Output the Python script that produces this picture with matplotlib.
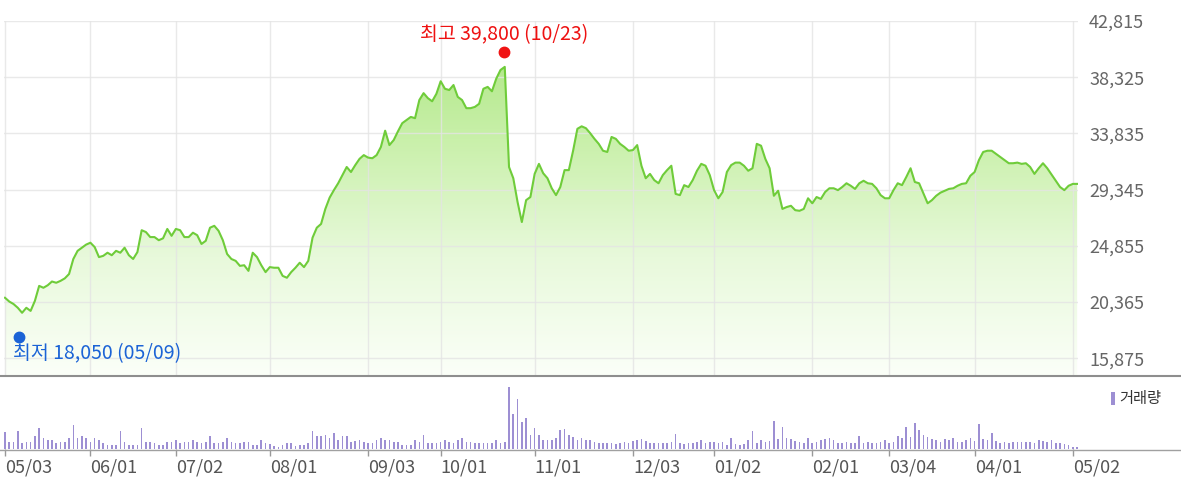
import matplotlib
matplotlib.use("Agg")
import matplotlib.pyplot as plt
import matplotlib.transforms as mtransforms
from matplotlib.colors import LinearSegmentedColormap
from matplotlib.lines import Line2D
from matplotlib.patches import Rectangle
import numpy as np

plt.rcParams["font.family"] = ["Noto Sans CJK KR", "DejaVu Sans"]

# Daily closing prices (won), one value per trading day, 05/03 .. 05/02
close_prices = [
    20700, 20400, 20200, 19900, 19500, 19900, 19650, 20450, 21650, 21500,
    21700, 22000, 21900, 22050, 22250, 22600, 23800, 24450, 24700, 24950,
    25100, 24750, 23950, 24050, 24300, 24100, 24450, 24300, 24700, 24100,
    23800, 24350, 26100, 25950, 25550, 25550, 25300, 25450, 26200, 25650,
    26200, 26100, 25550, 25550, 25900, 25700, 25000, 25250, 26300, 26450,
    26050, 25300, 24200, 23800, 23650, 23250, 23300, 22850, 24300, 23950,
    23300, 22750, 23150, 23100, 23100, 22450, 22300, 22750, 23100, 23500,
    23150, 23650, 25500, 26300, 26600, 27800, 28700, 29300, 29850, 30500,
    31150, 30750, 31300, 31800, 32100, 31900, 31850, 32100, 32750, 34050,
    32900, 33300, 34000, 34650, 34900, 35150, 35050, 36500, 37050, 36650,
    36400, 37000, 38000, 37400, 37300, 37700, 36750, 36500, 35850, 35850,
    35950, 36200, 37400, 37550, 37200, 38200, 38900, 39150, 31150, 30250,
    28350, 26750, 28500, 28750, 30600, 31400, 30650, 30250, 29450, 28900,
    29550, 30900, 30900, 32450, 34200, 34400, 34250, 33850, 33400, 33000,
    32450, 32350, 33550, 33400, 33000, 32750, 32450, 32500, 32900, 31250,
    30250, 30600, 30100, 29850, 30500, 30900, 31250, 29000, 28900, 29700,
    29550, 30100, 30850, 31400, 31250, 30500, 29300, 28650, 29150, 30750,
    31300, 31500, 31500, 31250, 30850, 31050, 33000, 32850, 31800, 31050,
    28850, 29250, 27800, 27950, 28050, 27700, 27650, 27800, 28650, 28250,
    28750, 28600, 29150, 29450, 29450, 29300, 29550, 29850, 29650, 29400,
    29850, 30050, 29850, 29800, 29450, 28900, 28650, 28650, 29300, 29850,
    29700, 30350, 31050, 29950, 29850, 29050, 28250, 28500, 28850, 29100,
    29250, 29400, 29450, 29650, 29800, 29850, 30450, 30750, 31700, 32350,
    32450, 32450, 32200, 31950, 31700, 31450, 31450, 31500, 31400, 31450,
    31150, 30600, 31050, 31450, 31050, 30550, 30050, 29550, 29300, 29650,
    29800, 29800,
]

# Daily volume (thousand shares)
volumes = [
    170, 75, 75, 180, 65, 75, 75, 130, 210, 110,
    90, 90, 65, 75, 75, 110, 240, 110, 130, 110,
    75, 110, 90, 60, 40, 40, 40, 180, 75, 40,
    40, 40, 210, 75, 75, 60, 40, 40, 75, 75,
    90, 60, 75, 75, 90, 75, 60, 75, 130, 60,
    60, 75, 110, 75, 60, 60, 75, 75, 40, 40,
    90, 60, 50, 30, 20, 40, 60, 60, 30, 40,
    40, 60, 180, 130, 130, 145, 110, 160, 90, 130,
    130, 75, 80, 90, 75, 60, 60, 90, 110, 90,
    90, 75, 75, 40, 40, 40, 90, 75, 145, 60,
    60, 60, 75, 90, 75, 60, 90, 110, 75, 75,
    60, 60, 60, 60, 60, 90, 60, 75, 620, 350,
    500, 275, 315, 140, 210, 140, 90, 90, 90, 107,
    190, 200, 140, 124, 90, 107, 90, 90, 74, 57,
    64, 57, 64, 50, 64, 74, 57, 84, 90, 97,
    84, 64, 64, 64, 57, 64, 74, 147, 64, 50,
    57, 64, 74, 90, 64, 74, 74, 64, 74, 40,
    107, 50, 40, 50, 90, 180, 64, 90, 70, 84,
    280, 97, 224, 107, 97, 84, 74, 64, 107, 60,
    74, 90, 97, 107, 90, 60, 64, 74, 64, 64,
    130, 60, 74, 64, 64, 74, 90, 64, 74, 130,
    107, 220, 120, 265, 190, 140, 124, 97, 90, 74,
    97, 90, 107, 74, 70, 90, 107, 84, 250, 97,
    90, 164, 84, 64, 74, 60, 74, 74, 74, 74,
    74, 64, 90, 80, 70, 90, 64, 57, 50, 40,
    23, 17,
]

# Trading-day index of each date label
tick_index = [0, 20, 40, 62, 85, 102, 124, 147, 166, 189, 207, 227, 250]
tick_labels = ["05/03", "06/01", "07/02", "08/01", "09/03", "10/01", "11/01",
               "12/03", "01/02", "02/01", "03/04", "04/01", "05/02"]
price_ticks = [15875, 20365, 24855, 29345, 33835, 38325, 42815]

high_index, high_price, high_date = 117, 39800, "10/23"
low_index, low_price, low_date = 3, 18050, "05/09"

W, H = 1181, 490


def px_rect(x0, y0, x1, y1):
    # pixel box (top-left origin) -> figure fraction rect
    return [x0 / W, 1 - y1 / H, (x1 - x0) / W, (y1 - y0) / H]


def main():
    fig = plt.figure(figsize=(W / 100, H / 100), dpi=100)
    ax = fig.add_axes(px_rect(4, 21, 1078, 375))
    axv = fig.add_axes(px_rect(4, 376, 1078, 449))

    x = np.arange(len(close_prices))
    xlim = (-0.23, 251.2)
    ylim = (14530, 42815)

    # gradient fill under the price line
    poly = ax.fill_between(x, close_prices, ylim[0], color="none", lw=0)
    cmap = LinearSegmentedColormap.from_list(
        "g", ["#fbfff8", "#e8f9db", "#c9f0aa", "#a8e47c"])
    grad = np.linspace(0, 1, 256).reshape(-1, 1)
    im = ax.imshow(grad, extent=[xlim[0], xlim[1], ylim[0], ylim[1]],
                   aspect="auto", cmap=cmap, origin="lower", zorder=1)
    im.set_clip_path(poly.get_paths()[0], transform=ax.transData)

    ax.plot(x, close_prices, color="#6fcc3a", lw=1.5, zorder=3,
            solid_joinstyle="round")

    ax.set_xlim(*xlim)
    ax.set_ylim(*ylim)
    ax.set_xticks(tick_index)
    ax.set_yticks(price_ticks)
    ax.set_yticklabels([f"{v:,}" for v in price_ticks])
    ax.yaxis.tick_right()
    ax.tick_params(axis="x", length=0, labelbottom=False)
    ax.tick_params(axis="y", length=0, pad=8, labelsize=13, labelcolor="#666666")
    ax.grid(True, color="#e4e4e4", lw=1, alpha=0.8, zorder=2)
    ax.set_axisbelow(False)
    for s in ax.spines.values():
        s.set_visible(False)

    # high / low markers
    up = mtransforms.offset_copy(ax.transData, fig=fig, x=-1, y=6.5, units="dots")
    down = mtransforms.offset_copy(ax.transData, fig=fig, x=1, y=-6, units="dots")
    ax.plot([high_index], [high_price], "o", ms=7.5, color="#f01414",
            transform=up, clip_on=False, zorder=5)
    ax.plot([low_index], [low_price], "o", ms=7.5, color="#1b63d6",
            transform=down, clip_on=False, zorder=5)
    ax.annotate(f"최고 {high_price:,} ({high_date})", xy=(high_index, high_price),
                xytext=(-1, 24), textcoords="offset pixels", ha="center",
                va="center", fontsize=14, color="#ee1111", annotation_clip=False)
    ax.annotate(f"최저 {low_price:,} ({low_date})", xy=(low_index, low_price),
                xytext=(-5, -23), textcoords="offset pixels", ha="left",
                va="center", fontsize=14, color="#1b63d6", annotation_clip=False)

    # volume panel
    axv.bar(x, volumes, width=0.38, color="#9d8fd3", linewidth=0)
    axv.set_xlim(*xlim)
    axv.set_ylim(0, 730)
    axv.set_yticks([])
    axv.set_xticks(tick_index)
    axv.set_xticklabels(tick_labels)
    axv.tick_params(axis="x", length=5, width=1, color="#999999", pad=2,
                    labelsize=13, labelcolor="#555555")
    for lbl in axv.get_xticklabels():
        lbl.set_horizontalalignment("left")
    for s in axv.spines.values():
        s.set_visible(False)

    # separator and baseline across the full width
    fig.add_artist(Line2D([0, 1], [1 - 375.5 / H] * 2, color="#8e8e8e", lw=1.5))
    fig.add_artist(Line2D([0, 1], [1 - 449.5 / H] * 2, color="#a0a0a0", lw=1))

    # volume legend
    fig.add_artist(Rectangle((1111 / W, 1 - 405 / H), 4 / W, 13 / H,
                             transform=fig.transFigure, color="#9d8fd3", lw=0))
    fig.text(1119 / W, 1 - 398 / H, "거래량", fontsize=11, color="#333333",
             va="center", ha="left")

    fig.savefig("out.png", dpi=100)
    plt.close(fig)


if __name__ == "__main__":
    main()
